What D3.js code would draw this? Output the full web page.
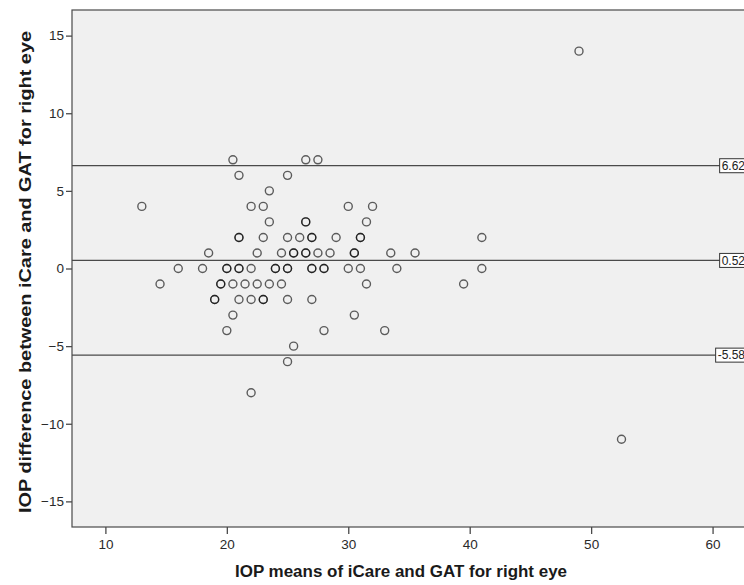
<!DOCTYPE html>
<html>
<head>
<meta charset="utf-8">
<script src="https://cdn.jsdelivr.net/npm/d3@7"></script>
<style>
  html, body { margin: 0; padding: 0; background: #ffffff; overflow: hidden; }
  svg { display: block; font-family: "Liberation Sans", Arial, sans-serif; }
</style>
</head>
<body>
<svg id="chart" width="744" height="585"></svg>
<script>
// Mean IOP of iCare and GAT (x) against their difference (y), right eye
const meanIOP = [
  49,
  20.5, 26.5, 27.5,
  21, 25,
  23.5,
  13, 22, 23, 30, 32,
  23.5, 26.5, 26.5, 31.5,
  21, 21, 23, 25, 26, 27, 27, 29, 31, 31, 41,
  18.5, 22.5, 24.5, 25.5, 25.5, 26.5, 26.5, 27.5, 28.5, 30.5, 30.5, 33.5, 35.5,
  16, 18, 20, 20, 21, 21, 22, 24, 24, 25, 25, 27, 27, 28, 28, 30, 31, 34, 41,
  14.5, 19.5, 19.5, 20.5, 21.5, 22.5, 23.5, 24.5, 31.5, 39.5,
  19, 19, 21, 22, 23, 23, 25, 27,
  20.5, 30.5,
  20, 28, 33,
  25.5,
  25,
  22,
  52.5
];
const diffIOP = [
  14,
  7, 7, 7,
  6, 6,
  5,
  4, 4, 4, 4, 4,
  3, 3, 3, 3,
  2, 2, 2, 2, 2, 2, 2, 2, 2, 2, 2,
  1, 1, 1, 1, 1, 1, 1, 1, 1, 1, 1, 1, 1,
  0, 0, 0, 0, 0, 0, 0, 0, 0, 0, 0, 0, 0, 0, 0, 0, 0, 0, 0,
  -1, -1, -1, -1, -1, -1, -1, -1, -1, -1,
  -2, -2, -2, -2, -2, -2, -2, -2,
  -3, -3,
  -4, -4, -4,
  -5,
  -6,
  -8,
  -11
];
// Upper limit of agreement, mean difference, lower limit of agreement
const refLines = [6.62, 0.52, -5.58];
const refLabels = ["6.62", "0.52", "-5.58"];
const xTicks = [10, 20, 30, 40, 50, 60];
const yTicks = [-15, -10, -5, 0, 5, 10, 15];

const points = meanIOP.map((m, i) => ({ x: m, y: diffIOP[i] }));

const svg = d3.select("#chart");
const plotLeft = 72, plotRight = 749, plotTop = 10, plotBottom = 527;

const x = d3.scaleLinear().domain([7.25, 63]).range([plotLeft, plotRight]);
const y = d3.scaleLinear().domain([-16.65, 16.65]).range([plotBottom, plotTop]);

// plot background and frame
svg.append("rect")
  .attr("x", plotLeft).attr("y", plotTop)
  .attr("width", plotRight - plotLeft).attr("height", plotBottom - plotTop)
  .attr("fill", "#f0f0f0")
  .attr("stroke", "#4a4a4a").attr("stroke-width", 1.2);

// axes
const xAxis = svg.append("g")
  .attr("transform", `translate(0,${plotBottom})`)
  .call(d3.axisBottom(x).tickValues(xTicks).tickSize(7).tickPadding(5).tickFormat(d3.format("d")));
const yAxis = svg.append("g")
  .attr("transform", `translate(${plotLeft},0)`)
  .call(d3.axisLeft(y).tickValues(yTicks).tickSize(6).tickPadding(2).tickFormat(d3.format("d")));

[xAxis, yAxis].forEach(g => {
  g.select(".domain").remove();
  g.selectAll(".tick line").attr("stroke", "#4a4a4a").attr("stroke-width", 1.3);
  g.selectAll(".tick text")
    .attr("fill", "#2a2a2a")
    .style("font-size", "13.5px")
    .style("font-family", "'Liberation Sans', Arial, sans-serif");
});

// reference lines with value boxes at the right end
const refG = svg.append("g");
refLines.forEach(v => {
  refG.append("line")
    .attr("x1", plotLeft).attr("x2", plotRight)
    .attr("y1", y(v)).attr("y2", y(v))
    .attr("stroke", "#4a4a4a").attr("stroke-width", 1.2);
});

// points: hollow circles, overlapping ones darken
svg.append("g")
  .selectAll("circle")
  .data(points)
  .join("circle")
  .attr("cx", d => x(d.x))
  .attr("cy", d => y(d.y))
  .attr("r", 4)
  .attr("fill", "none")
  .attr("stroke", "#000")
  .attr("stroke-opacity", 0.62)
  .attr("stroke-width", 1.4);

refLines.forEach((v, i) => {
  const t = refG.append("text")
    .attr("x", plotRight - 4)
    .attr("y", y(v))
    .attr("dy", "0.36em")
    .attr("text-anchor", "end")
    .attr("fill", "#222")
    .style("font-size", "12px")
    .text(refLabels[i]);
  const bb = t.node().getBBox();
  refG.insert("rect", () => t.node())
    .attr("x", bb.x - 2).attr("y", y(v) - 7)
    .attr("width", bb.width + 4).attr("height", 14)
    .attr("fill", "#fff")
    .attr("stroke", "#333").attr("stroke-width", 1);
});

// axis titles
svg.append("text")
  .attr("x", 401).attr("y", 577)
  .attr("text-anchor", "middle")
  .attr("fill", "#1a1a1a")
  .attr("textLength", 332)
  .attr("lengthAdjust", "spacingAndGlyphs")
  .style("font-size", "16px").style("font-weight", "bold")
  .text("IOP means of iCare and GAT for right eye");

svg.append("text")
  .attr("transform", "translate(31,272) rotate(-90)")
  .attr("text-anchor", "middle")
  .attr("fill", "#1a1a1a")
  .attr("textLength", 482)
  .attr("lengthAdjust", "spacingAndGlyphs")
  .style("font-size", "16px").style("font-weight", "bold")
  .text("IOP difference between iCare and GAT for right eye");
</script>
</body>
</html>
